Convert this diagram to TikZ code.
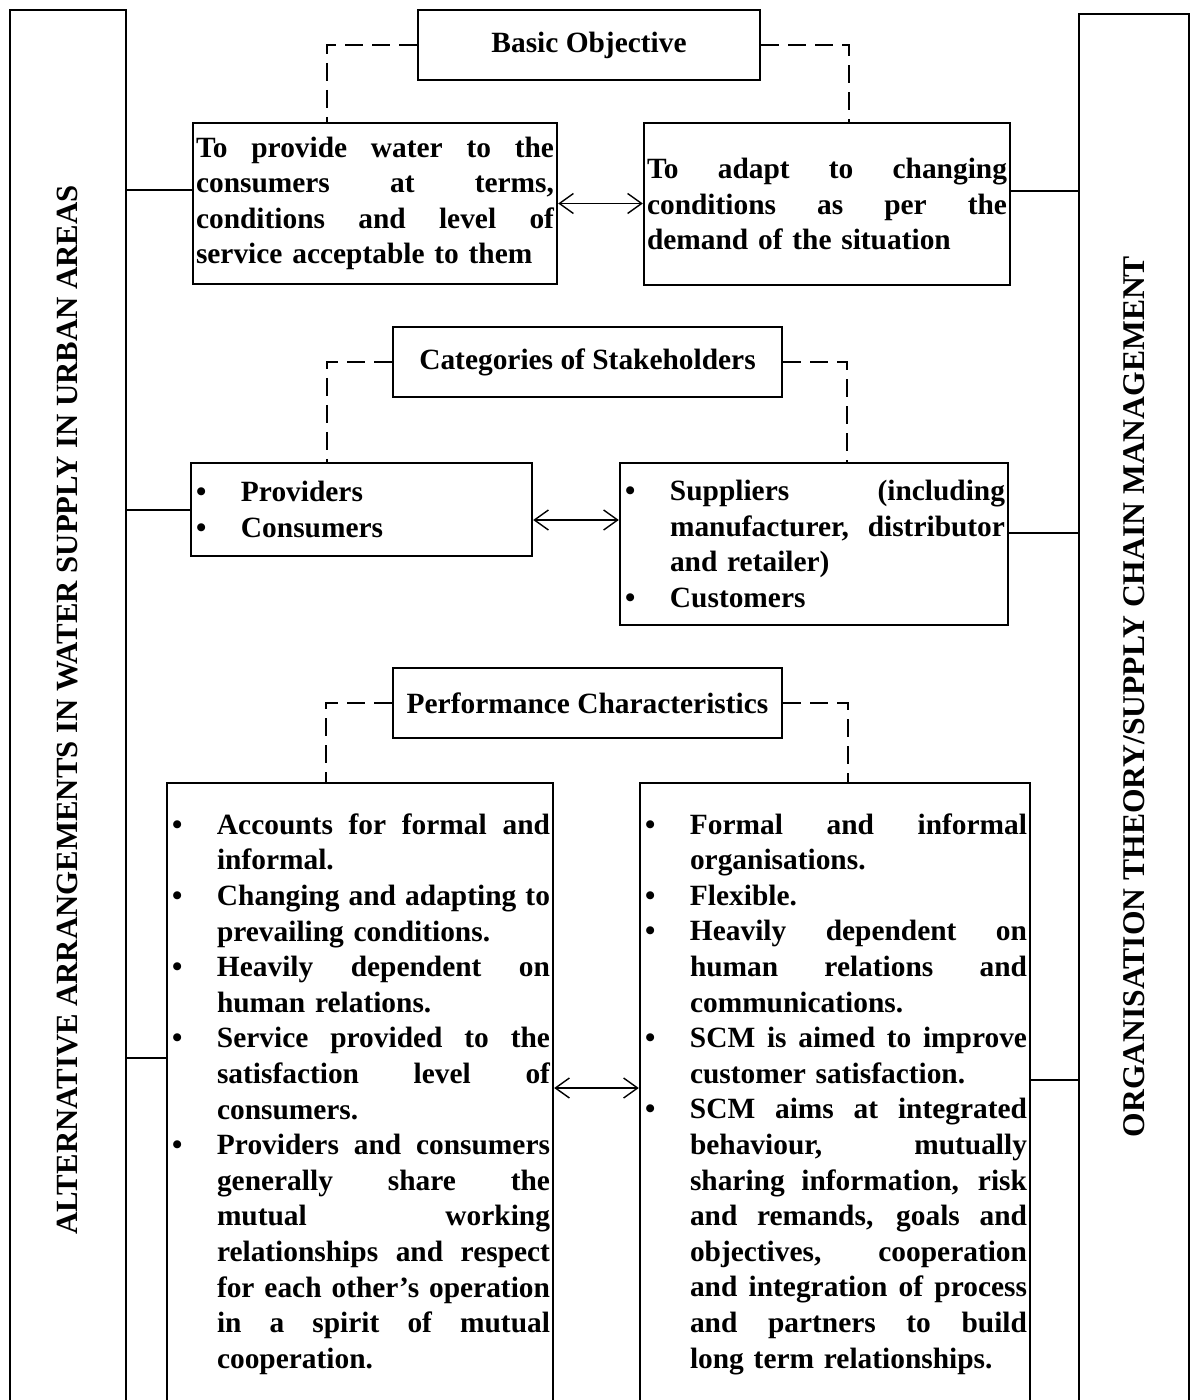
\documentclass[tikz,border=0pt]{standalone}
\usepackage{fontspec}
\setmainfont{Liberation Serif}
\usetikzlibrary{calc,arrows.meta}
\tikzset{
    titlebox/.style = {draw, rectangle, line width=1.2pt,
        minimum height=35pt, inner sep=0pt},
    textbox/.style = {draw, rectangle, line width=1.2pt,
        inner xsep=1.5pt, inner ysep=0pt, align=left},
    sidebox/.style = {draw, rectangle, line width=1.3pt, rotate=90, inner sep=0pt,
        font=\fontsize{15.4}{18}\selectfont\bfseries},
    link/.style = {draw, line width=1pt},
    dashlink/.style = {draw, line width=1pt, dash pattern=on 9pt off 4.5pt},
    dblarrow/.style = {draw, line width=0.7pt,
        {Straight Barb[length=7pt,width=10pt]}-{Straight Barb[length=7pt,width=10pt]}}
}
% one justified line of given width
\newcommand{\jl}[2]{\leavevmode\hbox to #1{\spaceskip=\fontdimen2\font plus 1fil\relax #2}}
\newcommand{\bul}{\makebox[23.5pt][l]{\hspace{1pt}\textbullet}}
\newcommand{\nob}{\hspace*{23.5pt}}
\hyphenpenalty=10000

\begin{document}
\begin{tikzpicture}[x=0.5pt,y=-0.5pt,font=\fontsize{14.7}{17.8}\selectfont\bfseries]
\useasboundingbox (0,0) rectangle (1197,1400);
\clip (0,0) rectangle (1197,1400);

% side boxes
\node[sidebox, minimum width=700pt, minimum height=58pt] (altbox) at (68,710)
    {ALTERNATIVE ARRANGEMENTS IN WATER SUPPLY IN URBAN AREAS};
\node[sidebox, minimum width=698pt, minimum height=55pt,
      font=\fontsize{15.8}{18}\selectfont\bfseries] (orgbox) at (1134,712)
    {\hspace*{15.5pt}ORGANISATION THEORY/SUPPLY CHAIN MANAGEMENT};

% basic objective
\node[titlebox, minimum width=171pt] (objective) at (589,45) {Basic Objective};
\node[textbox, text width=179pt, minimum height=80.5pt] (water) at (375,203.5)
    {\jl{179pt}{To provide water to the}\\
     \jl{179pt}{consumers at terms,}\\
     \jl{179pt}{conditions and level of}\\
     service acceptable to them};
\node[textbox, text width=180pt, minimum height=81pt] (adapt) at (827,204)
    {\jl{180pt}{To adapt to changing}\\
     \jl{180pt}{conditions as per the}\\
     demand of the situation};

% stakeholders
\node[titlebox, minimum width=194.5pt] (stake) at (587.5,362) {Categories of Stakeholders};
\node[textbox, text width=167.5pt, minimum height=46.5pt] (providers) at (361.5,509.5)
    {\bul Providers\\
     \bul Consumers};
\node[textbox, text width=191pt, minimum height=81pt] (suppliers) at (814,544)
    {\bul\jl{167.5pt}{Suppliers (including}\\
     \nob\jl{167.5pt}{manufacturer, distributor}\\
     \nob and retailer)\\
     \bul Customers};

% performance
\node[titlebox, minimum width=194.5pt] (perform) at (587.5,703) {Performance Characteristics};
\node[textbox, text width=190pt, minimum height=311pt] (water2) at (360,1094)
    {\bul\jl{166.5pt}{Accounts for formal and}\\
     \nob informal.\\
     \bul\jl{166.5pt}{Changing and adapting to}\\
     \nob prevailing conditions.\\
     \bul\jl{166.5pt}{Heavily dependent on}\\
     \nob human relations.\\
     \bul\jl{166.5pt}{Service provided to the}\\
     \nob\jl{166.5pt}{satisfaction level of}\\
     \nob consumers.\\
     \bul\jl{166.5pt}{Providers and consumers}\\
     \nob\jl{166.5pt}{generally share the}\\
     \nob\jl{166.5pt}{mutual working}\\
     \nob\jl{166.5pt}{relationships and respect}\\
     \nob\jl{166.5pt}{for each other’s operation}\\
     \nob\jl{166.5pt}{in a spirit of mutual}\\
     \nob cooperation.};
\node[textbox, text width=192pt, minimum height=311pt] (scm) at (835,1094)
    {\bul\jl{168.5pt}{Formal and informal}\\
     \nob organisations.\\
     \bul Flexible.\\
     \bul\jl{168.5pt}{Heavily dependent on}\\
     \nob\jl{168.5pt}{human relations and}\\
     \nob communications.\\
     \bul\jl{168.5pt}{SCM is aimed to improve}\\
     \nob customer satisfaction.\\
     \bul\jl{168.5pt}{SCM aims at integrated}\\
     \nob\jl{168.5pt}{behaviour, mutually}\\
     \nob\jl{168.5pt}{sharing information, risk}\\
     \nob\jl{168.5pt}{and remands, goals and}\\
     \nob\jl{168.5pt}{objectives, cooperation}\\
     \nob\jl{168.5pt}{and integration of process}\\
     \nob\jl{168.5pt}{and partners to build}\\
     \nob long term relationships.};

% dashed links from the headings
\draw[dashlink] (objective.west) -| ($(water.north west)+(135,0)$);
\draw[dashlink] (objective.east) -| ($(adapt.north west)+(206,0)$);
\draw[dashlink] (stake.west) -| ($(providers.north west)+(137,0)$);
\draw[dashlink] (stake.east) -| ($(suppliers.north west)+(228,0)$);
\draw[dashlink] (perform.west) -| ($(water2.north west)+(160,0)$);
\draw[dashlink] (perform.east) -| ($(scm.north west)+(209,0)$);

% links to the side boxes
\coordinate (l1) at ([yshift=6.75pt]water.west);
\coordinate (r1) at ([yshift=6.5pt]adapt.east);
\coordinate (r2) at ([yshift=5.5pt]suppliers.east);
\coordinate (l3) at ([yshift=18pt]water2.west);
\coordinate (r3) at ([yshift=7pt]scm.east);
\draw[link] (l1) -- (l1 -| altbox.south);
\draw[link] (r1) -- (r1 -| orgbox.north);
\draw[link] (providers.west) -- (providers.west -| altbox.south);
\draw[link] (r2) -- (r2 -| orgbox.north);
\draw[link] (l3) -- (l3 -| altbox.south);
\draw[link] (r3) -- (r3 -| orgbox.north);

% two-way arrows
\coordinate (a2) at ([yshift=-5.25pt]providers.east);
\coordinate (a3) at ([yshift=3pt]water2.east);
\draw[dblarrow] (water.east) -- (water.east -| adapt.west);
\draw[dblarrow] (a2) -- (a2 -| suppliers.west);
\draw[dblarrow] (a3) -- (a3 -| scm.west);
\end{tikzpicture}
\end{document}
